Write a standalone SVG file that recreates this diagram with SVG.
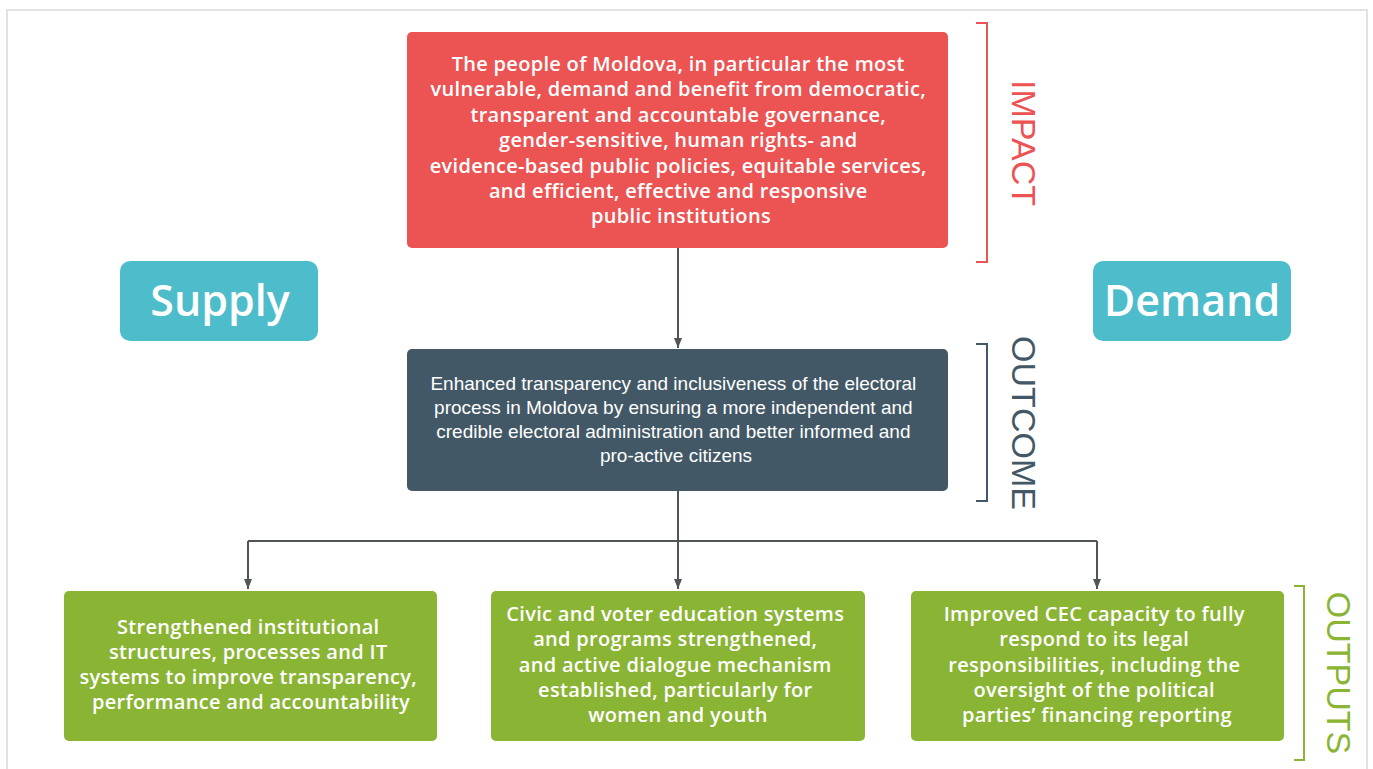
<svg xmlns="http://www.w3.org/2000/svg" width="1373" height="769" viewBox="0 0 1373 769">
<defs>
<style>
.frame{fill:#fff;stroke:#e2e2e2;stroke-width:2}
.os{font-family:"Open Sans","Liberation Sans",sans-serif;font-weight:600;fill:#fff;text-anchor:middle}
.body{font-size:20px;letter-spacing:0.3px}
.ar{font-family:"Liberation Sans",Arial,sans-serif;fill:#fff;text-anchor:middle}
.lbl{font-family:"Liberation Sans",Arial,sans-serif;font-size:34px;text-anchor:middle}
.conn{fill:none;stroke:#505558;stroke-width:2}
.br{fill:none;stroke-width:2}
</style>
<marker id="ah" viewBox="0 0 10 10" refX="10" refY="5" markerWidth="10" markerHeight="10" markerUnits="userSpaceOnUse" orient="auto">
<path d="M0,1 L10,5 L0,9 z" fill="#505558"/>
</marker>
</defs>
<rect x="0" y="0" width="1373" height="769" fill="#fff"/>
<path d="M7,769 V10 H1367 V769" class="frame"/>

<g id="connectors">
<line x1="678" y1="248" x2="678" y2="348" class="conn" marker-end="url(#ah)"/>
<path d="M678,491 V541" class="conn"/>
<path d="M248,541 H1097" class="conn"/>
<line x1="248" y1="541" x2="248" y2="589" class="conn" marker-end="url(#ah)"/>
<line x1="678" y1="541" x2="678" y2="589" class="conn" marker-end="url(#ah)"/>
<line x1="1097" y1="541" x2="1097" y2="589" class="conn" marker-end="url(#ah)"/>
</g>

<g id="impact">
<rect x="407" y="32" width="541" height="216" rx="5" fill="#ec5353"/>
<text class="os body">
<tspan x="681" y="71">The people of Moldova, in particular the most</tspan>
<tspan x="681" y="96">vulnerable, demand and benefit from democratic,</tspan>
<tspan x="681" y="122">transparent and accountable governance,</tspan>
<tspan x="681" y="147">gender-sensitive, human rights- and</tspan>
<tspan x="681" y="173">evidence-based public policies, equitable services,</tspan>
<tspan x="681" y="198">and efficient, effective and responsive</tspan>
<tspan x="681" y="223">public institutions</tspan>
</text>
</g>

<g id="impact-label">
<path d="M976,23 H987 V262 H976" class="br" stroke="#ec5353"/>
<text class="lbl" fill="#ec5353" transform="translate(1012,143) rotate(90)">IMPACT</text>
</g>

<g id="supply">
<rect x="120" y="261" width="198" height="80" rx="10" fill="#4dbccb"/>
<text class="os" font-size="43" font-weight="700" x="220" y="316">Supply</text>
</g>

<g id="demand">
<rect x="1093" y="261" width="198" height="80" rx="10" fill="#4dbccb"/>
<text class="os" font-size="43" font-weight="700" x="1192" y="316">Demand</text>
</g>

<g id="outcome">
<rect x="407" y="349" width="541" height="142" rx="5" fill="#435866"/>
<text class="ar" font-size="19">
<tspan x="676" y="390">Enhanced transparency and inclusiveness of the electoral</tspan>
<tspan x="676" y="414">process in Moldova by ensuring a more independent and</tspan>
<tspan x="676" y="438">credible electoral administration and better informed and</tspan>
<tspan x="676" y="462">pro-active citizens</tspan>
</text>
</g>

<g id="outcome-label">
<path d="M976,344 H987 V501 H976" class="br" stroke="#435866"/>
<text class="lbl" fill="#435866" transform="translate(1012,423) rotate(90)">OUTCOME</text>
</g>

<g id="output1">
<rect x="64" y="591" width="373" height="150" rx="5" fill="#8ab433"/>
<text class="os body">
<tspan x="251" y="634">Strengthened institutional</tspan>
<tspan x="251" y="659">structures, processes and IT</tspan>
<tspan x="251" y="684">systems to improve transparency,</tspan>
<tspan x="251" y="709">performance and accountability</tspan>
</text>
</g>

<g id="output2">
<rect x="491" y="591" width="374" height="150" rx="5" fill="#8ab433"/>
<text class="os body">
<tspan x="678" y="621">Civic and voter education systems</tspan>
<tspan x="678" y="646">and programs strengthened,</tspan>
<tspan x="678" y="672">and active dialogue mechanism</tspan>
<tspan x="678" y="697">established, particularly for</tspan>
<tspan x="678" y="722">women and youth</tspan>
</text>
</g>

<g id="output3">
<rect x="911" y="591" width="373" height="150" rx="5" fill="#8ab433"/>
<text class="os body">
<tspan x="1097" y="621">Improved CEC capacity to fully</tspan>
<tspan x="1097" y="646">respond to its legal</tspan>
<tspan x="1097" y="672">responsibilities, including the</tspan>
<tspan x="1097" y="697">oversight of the political</tspan>
<tspan x="1097" y="722">parties’ financing reporting</tspan>
</text>
</g>

<g id="outputs-label">
<path d="M1294,586 H1304 V760 H1294" class="br" stroke="#8ab433"/>
<text class="lbl" fill="#8ab433" transform="translate(1327,673) rotate(90)">OUTPUTS</text>
</g>
</svg>
